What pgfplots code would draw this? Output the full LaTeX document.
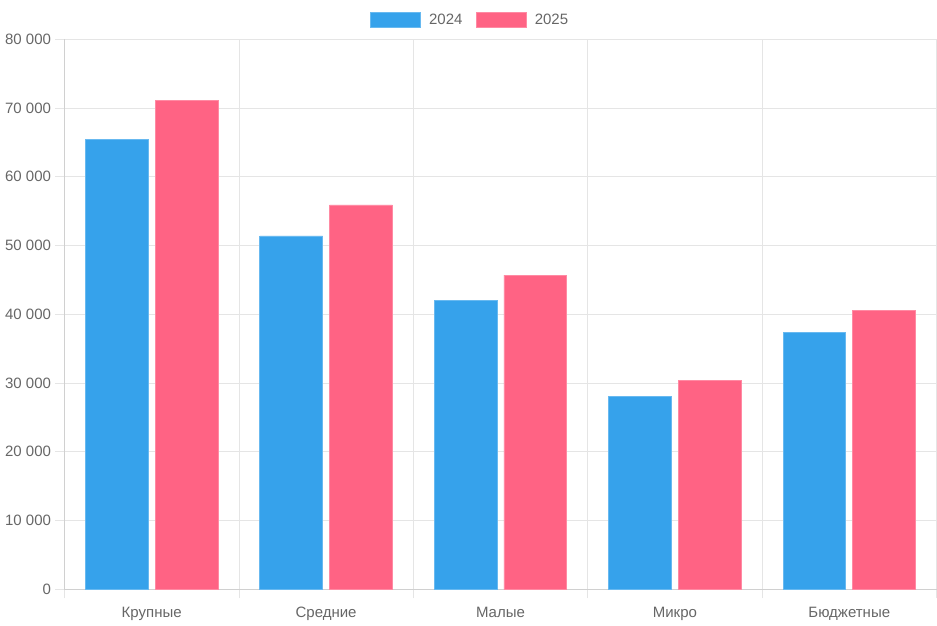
\documentclass[border=0pt]{standalone}
\usepackage{fontspec}
\setmainfont{Liberation Sans}
\usepackage{pgfplots}
\pgfplotsset{compat=1.18}
\definecolor{cblue}{HTML}{36A2EB}
\definecolor{cpink}{HTML}{FF6384}
\definecolor{ctext}{HTML}{666666}
\definecolor{cgrid}{HTML}{E5E5E5}
\definecolor{caxis}{HTML}{D0D0D0}
\begin{document}
\begin{tikzpicture}[x=1pt,y=1pt]
\path[use as bounding box] (0,0) rectangle (937,625);
\begin{axis}[
  at={(64.5pt,35.7pt)}, anchor=south west,
  scale only axis, width=872pt, height=550pt,
  xmin=-0.5, xmax=4.5, ymin=0, ymax=80000,
  axis lines*=left,
  axis line style={draw=caxis, line width=0.8pt},
  xtick={0,1,2,3,4},
  xticklabels={Крупные,Средние,Малые,Микро,Бюджетные},
  minor xtick={-0.5,0.5,1.5,2.5,3.5,4.5},
  ytick={0,10000,20000,30000,40000,50000,60000,70000,80000},
  yticklabels={0,10 000,20 000,30 000,40 000,50 000,60 000,70 000,80 000},
  scaled y ticks=false,
  tick align=outside,
  major tick length=9pt, minor tick length=9pt,
  xtick style={draw=none},
  minor x tick style={draw=cgrid, line width=0.8pt},
  ytick style={draw=cgrid, line width=0.8pt},
  ymajorgrids, xminorgrids,
  major grid style={draw=cgrid, line width=0.8pt},
  minor grid style={draw=cgrid, line width=0.8pt},
  ticklabel style={font=\fontsize{15}{18}\selectfont, text=ctext},
  yticklabel style={xshift=-1pt},
  xticklabel style={yshift=-5pt},
  legend columns=2,
  legend style={at={(0.4653,1)}, anchor=center, yshift=19.5pt, draw=none, fill=none,
    font=\fontsize{15}{18}\selectfont, text=ctext,
    /tikz/every odd column/.append style={column sep=6pt},
    /tikz/every even column/.append style={column sep=11.5pt}},
  legend image code/.code={\fill[#1] (0pt,-7.5pt) rectangle (50pt,7.5pt);},
]
\addplot[ybar, bar width=0.36, bar shift=-0.2, fill=cblue, draw=cblue!75!white, line width=0.8pt]
  coordinates {(0,65400) (1,51400) (2,42000) (3,28000) (4,37300)};
\addlegendentry{2024}
\addplot[ybar, bar width=0.36, bar shift=0.2, fill=cpink, draw=cpink!75!white, line width=0.8pt]
  coordinates {(0,71100) (1,55900) (2,45700) (3,30400) (4,40600)};
\addlegendentry{2025}
\end{axis}
\end{tikzpicture}
\end{document}
